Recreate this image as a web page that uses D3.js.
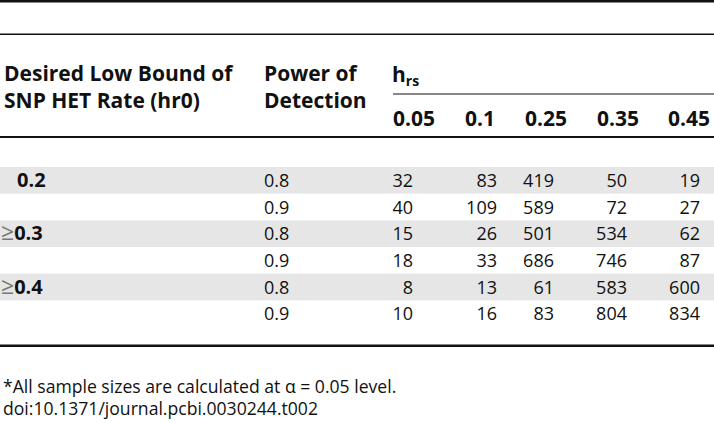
<!DOCTYPE html>
<html>
<head>
<meta charset="utf-8">
<script src="https://cdn.jsdelivr.net/npm/d3@7"></script>
<style>
  html, body { margin: 0; padding: 0; background: #fff; }
  svg { display: block; font-family: "Open Sans", "Noto Sans", sans-serif; }
</style>
</head>
<body>
<svg id="chart" width="714" height="423"></svg>
<script>
// table data
var hrsLevels = ["0.05", "0.1", "0.25", "0.35", "0.45"];
var lowBounds = ["0.2", "≥0.3", "≥0.4"];
var powers = ["0.8", "0.9"];
var power08 = [
  [32, 83, 419, 50, 19],
  [15, 26, 501, 534, 62],
  [8, 13, 61, 583, 600]
];
var power09 = [
  [40, 109, 589, 72, 27],
  [18, 33, 686, 746, 87],
  [10, 16, 83, 804, 834]
];
var footnotes = [
  "*All sample sizes are calculated at α = 0.05 level.",
  "doi:10.1371/journal.pcbi.0030244.t002"
];

var rows = [];
lowBounds.forEach(function(b, i) {
  rows.push({bound: b, power: powers[0], values: power08[i], shaded: true});
  rows.push({bound: "", power: powers[1], values: power09[i], shaded: false});
});

var svg = d3.select("#chart");
var W = 714;

var y = d3.scaleBand()
  .domain(d3.range(rows.length))
  .range([167, 327]);

// left edge of each hrs column header, right edge of the numbers
var colLeft = d3.scaleOrdinal().domain(hrsLevels).range([393, 465, 525, 597, 668]);
var colRight = d3.scaleOrdinal().domain(hrsLevels).range([413, 497, 554, 627, 700]);

// shaded rows
svg.selectAll(".band")
  .data(rows.filter(function(d) { return d.shaded; }))
  .enter().append("rect")
  .attr("x", 0)
  .attr("width", W)
  .attr("y", function(d) { return y(rows.indexOf(d)); })
  .attr("height", y.bandwidth())
  .attr("fill", "#e6e6e6");

// rules
function rule(y0, th, x0, x1) {
  svg.append("rect").attr("x", x0 || 0).attr("y", y0)
    .attr("width", (x1 || W) - (x0 || 0)).attr("height", th).attr("fill", "#111");
}
rule(0, 2.5);
rule(33.5, 1.5);
rule(136, 2);
rule(344.5, 2.5);
rule(93.5, 1, 393, W);

var head = svg.append("g").attr("font-weight", "bold").attr("font-size", 21).attr("fill", "#111");
head.append("text").attr("x", 4).attr("y", 81).text("Desired Low Bound of");
head.append("text").attr("x", 4).attr("y", 108).text("SNP HET Rate (hr0)");
head.append("text").attr("x", 264).attr("y", 81).text("Power of");
head.append("text").attr("x", 264).attr("y", 108).text("Detection");
var hrs = head.append("text").attr("x", 392).attr("y", 82).text("h");
hrs.append("tspan").attr("font-size", 14).attr("dy", 4).text("rs");

head.selectAll(".col")
  .data(hrsLevels)
  .enter().append("text")
  .attr("x", function(d) { return colLeft(d); })
  .attr("y", 126)
  .text(function(d) { return d; });

var body = svg.append("g").attr("font-size", 18).attr("fill", "#111");
var rowG = body.selectAll(".row")
  .data(rows)
  .enter().append("g")
  .attr("transform", function(d, i) { return "translate(0," + (y(i) + 20) + ")"; });

rowG.each(function(d) {
  var g = d3.select(this);
  if (d.bound) {
    var ge = d.bound.charAt(0) === "≥";
    var t = g.append("text").attr("x", ge ? 1 : 17);
    if (ge) {
      t.append("tspan").attr("fill", "#777").attr("font-size", 23).text("≥");
      t.append("tspan").attr("font-weight", "bold").attr("font-size", 20).text(d.bound.slice(1));
    } else {
      t.attr("font-weight", "bold").attr("font-size", 20).text(d.bound);
    }
  }
  g.append("text").attr("x", 264).text(d.power);
  g.selectAll(".v")
    .data(d.values)
    .enter().append("text")
    .attr("text-anchor", "end")
    .attr("x", function(v, j) { return colRight(hrsLevels[j]); })
    .text(function(v) { return v; });
});

svg.append("g").attr("font-size", 17.6).attr("fill", "#111")
  .selectAll("text")
  .data(footnotes)
  .enter().append("text")
  .attr("x", 3)
  .attr("y", function(d, i) { return 393 + i * 22; })
  .text(function(d) { return d; });
</script>
</body>
</html>
